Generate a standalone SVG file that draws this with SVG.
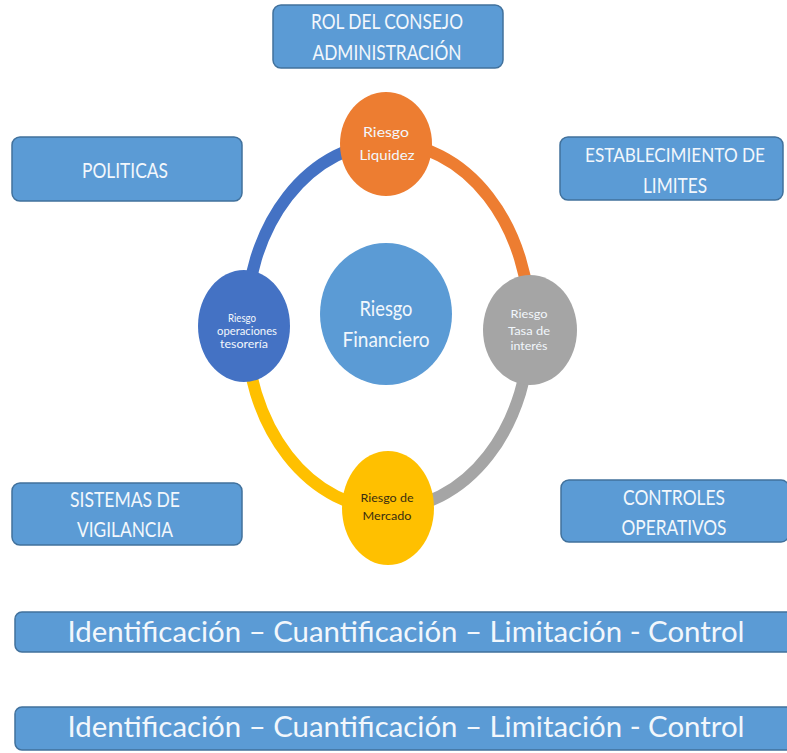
<svg xmlns="http://www.w3.org/2000/svg" width="787" height="753" viewBox="0 0 787 753">
<style>
.box{fill:#5B9BD5;stroke:#41719C;stroke-width:1.5}
.bt{font-family:Lato,"Open Sans","Liberation Sans",sans-serif;fill:#F2F7FC;text-anchor:middle}
.ring{fill:none;stroke-width:12}
</style>
<rect width="787" height="753" fill="#FFFFFF"/>
<g id="connectors">
<path class="ring" stroke="#4472C4" d="M246,326 A142,183 0 0 1 388,143"/>
<path class="ring" stroke="#ED7D31" d="M388,143 A142,183 0 0 1 530,326"/>
<path class="ring" stroke="#A5A5A5" d="M530,326 A142,183 0 0 1 388,509"/>
<path class="ring" stroke="#FFC000" d="M388,509 A142,183 0 0 1 246,326"/>
</g>
<g id="rol">
<rect class="box" x="273" y="5" width="230" height="63" rx="8"/>
<text class="bt" x="387" y="29" font-size="21" textLength="152" lengthAdjust="spacingAndGlyphs">ROL DEL CONSEJO</text>
<text class="bt" x="387" y="60" font-size="21" textLength="149" lengthAdjust="spacingAndGlyphs">ADMINISTRACIÓN</text>
</g>
<g id="politicas">
<rect class="box" x="12" y="137" width="230" height="64" rx="8"/>
<text class="bt" x="125" y="178" font-size="21" textLength="86" lengthAdjust="spacingAndGlyphs">POLITICAS</text>
</g>
<g id="limites">
<rect class="box" x="560" y="137" width="223" height="63" rx="8"/>
<text class="bt" x="675" y="162" font-size="19" textLength="180" lengthAdjust="spacingAndGlyphs">ESTABLECIMIENTO DE</text>
<text class="bt" x="675" y="193" font-size="21" textLength="64" lengthAdjust="spacingAndGlyphs">LIMITES</text>
</g>
<g id="vigilancia">
<rect class="box" x="12" y="483" width="230" height="62" rx="8"/>
<text class="bt" x="125" y="507" font-size="21" textLength="110" lengthAdjust="spacingAndGlyphs">SISTEMAS DE</text>
<text class="bt" x="125" y="537" font-size="21" textLength="96" lengthAdjust="spacingAndGlyphs">VIGILANCIA</text>
</g>
<g id="controles">
<rect class="box" x="561" y="480" width="228" height="62" rx="8"/>
<text class="bt" x="674" y="505" font-size="21" textLength="102" lengthAdjust="spacingAndGlyphs">CONTROLES</text>
<text class="bt" x="674" y="535" font-size="21" textLength="105" lengthAdjust="spacingAndGlyphs">OPERATIVOS</text>
</g>
<g id="liquidez">
<ellipse cx="386" cy="144" rx="46" ry="52" fill="#ED7D31"/>
<text class="bt" x="386" y="137" font-size="14" textLength="46" lengthAdjust="spacingAndGlyphs">Riesgo</text>
<text class="bt" x="387" y="160" font-size="14" textLength="55" lengthAdjust="spacingAndGlyphs">Liquidez</text>
</g>
<g id="operaciones">
<ellipse cx="244" cy="326" rx="46" ry="56" fill="#4472C4"/>
<text class="bt" x="242" y="322" font-size="11" textLength="28" lengthAdjust="spacingAndGlyphs">Riesgo</text>
<text class="bt" x="247" y="335" font-size="11" textLength="60" lengthAdjust="spacingAndGlyphs">operaciones</text>
<text class="bt" x="244" y="348" font-size="11" textLength="48" lengthAdjust="spacingAndGlyphs">tesorería</text>
</g>
<g id="financiero">
<ellipse cx="386" cy="314" rx="66" ry="71" fill="#5B9BD5"/>
<text class="bt" x="386" y="316" font-size="21" textLength="53" lengthAdjust="spacingAndGlyphs">Riesgo</text>
<text class="bt" x="386" y="347" font-size="21" textLength="87" lengthAdjust="spacingAndGlyphs">Financiero</text>
</g>
<g id="tasa">
<ellipse cx="530" cy="330" rx="47" ry="55" fill="#A5A5A5"/>
<text class="bt" x="529" y="318" font-size="12" textLength="37" lengthAdjust="spacingAndGlyphs">Riesgo</text>
<text class="bt" x="529" y="335" font-size="12" textLength="42" lengthAdjust="spacingAndGlyphs">Tasa de</text>
<text class="bt" x="529" y="350" font-size="12" textLength="37" lengthAdjust="spacingAndGlyphs">interés</text>
</g>
<g id="mercado">
<ellipse cx="388" cy="508" rx="46" ry="57" fill="#FFC000"/>
<text class="bt" x="387" y="502" font-size="12" style="fill:#3A2E10" textLength="53" lengthAdjust="spacingAndGlyphs">Riesgo de</text>
<text class="bt" x="387" y="520" font-size="12" style="fill:#3A2E10" textLength="49" lengthAdjust="spacingAndGlyphs">Mercado</text>
</g>
<g id="bar1">
<rect class="box" x="15" y="612" width="780" height="40" rx="7"/>
<text class="bt" x="406" y="642" font-size="28" textLength="677" lengthAdjust="spacingAndGlyphs">Identificación – Cuantificación – Limitación - Control</text>
</g>
<g id="bar2">
<rect class="box" x="15" y="707" width="780" height="43" rx="7"/>
<text class="bt" x="406" y="737" font-size="28" textLength="677" lengthAdjust="spacingAndGlyphs">Identificación – Cuantificación – Limitación - Control</text>
</g>
</svg>
